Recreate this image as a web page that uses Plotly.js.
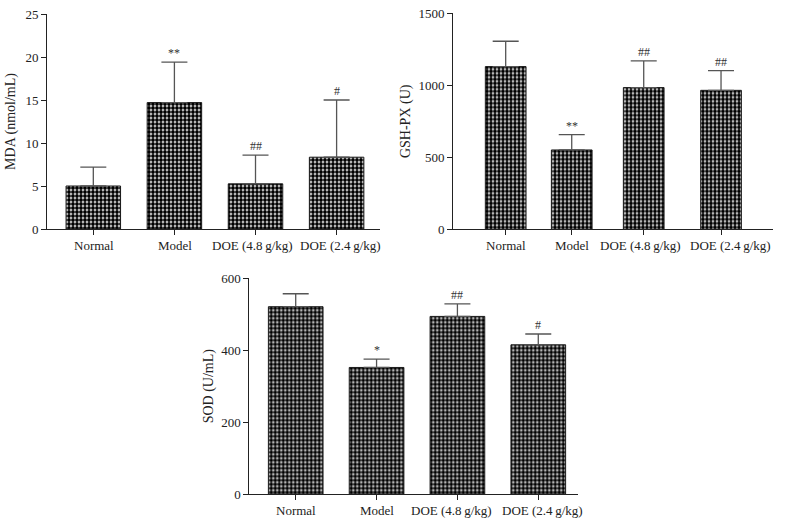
<!DOCTYPE html>
<html>
<head>
<meta charset="utf-8">
<script src="https://cdn.plot.ly/plotly-3.0.1.min.js"></script>
<style>
  html, body { margin: 0; padding: 0; background: #fff; }
  #chart { width: 787px; height: 526px; }
</style>
</head>
<body>
<div id="chart"></div>
<script>
// ---- data ----
const categories = ["Normal", "Model", "DOE (4.8\u2009g/kg)", "DOE (2.4\u2009g/kg)"];

const mdaMean = [5.0, 14.7, 5.25, 8.35];
const mdaErr  = [2.2, 4.7, 3.35, 6.65];
const mdaSig  = ["", "**", "##", "#"];

const gshMean = [1130, 551, 984, 965];
const gshErr  = [176, 106, 185, 137];
const gshSig  = ["", "**", "##", "##"];

const sodMean = [521, 352, 494, 415];
const sodErr  = [36, 23, 35, 30];
const sodSig  = ["", "*", "##", "#"];

const mdaTicks = [0, 5, 10, 15, 20, 25];
const gshTicks = [0, 500, 1000, 1500];
const sodTicks = [0, 200, 400, 600];

// ---- layout constants (positions of the category slots, label nudges in px) ----
const pos1 = [0, 1, 2, 3];
const pos2 = [0, 0.92, 1.923, 3];
const pos3 = [0, 1, 2, 3];
const nudge1 = [1, 1, -3.5, 4];
const nudge2 = [0, 0.5, -3.7, 9.5];
const nudge3 = [0, 0.5, -5.5, 4];

const FONT = "Liberation Serif, Times New Roman, serif";
const INK = "#222";

function barTrace(pos, mean, err, w, xa, ya) {
  return {
    type: "bar",
    x: pos,
    y: mean,
    width: w,
    xaxis: xa,
    yaxis: ya,
    marker: {
      color: "#ffffff",
      line: { color: "#1a1a1a", width: 1 },
      pattern: { shape: ".", fgcolor: "#000000", bgcolor: "#ffffff", size: 4, solidity: 0.72 }
    },
    error_y: {
      type: "data",
      symmetric: false,
      array: err,
      arrayminus: err.map(() => 0),
      color: "#555555",
      thickness: 1.3,
      width: 13
    },
    hoverinfo: "skip",
    showlegend: false
  };
}

function sigAnnots(pos, mean, err, sig, xa, ya) {
  return sig.map((s, i) => ({
    xref: xa, yref: ya,
    x: pos[i], y: mean[i] + err[i],
    text: s,
    showarrow: false,
    yanchor: "bottom",
    yshift: 0,
    font: { family: FONT, size: 12, color: "#333" }
  })).filter(a => a.text !== "");
}

function catLabels(pos, nudge, xa, ya) {
  return categories.map((c, i) => ({
    xref: xa, yref: ya,
    x: pos[i], y: 0,
    text: c,
    showarrow: false,
    xanchor: "center",
    yanchor: "top",
    xshift: nudge[i],
    yshift: -7,
    font: { family: FONT, size: 13, color: INK }
  }));
}

function xAxis(domain, range, pos, anchor) {
  return {
    domain: domain, range: range, anchor: anchor,
    tickmode: "array", tickvals: pos, showticklabels: false,
    showline: true, linecolor: INK, linewidth: 1,
    ticks: "outside", ticklen: 5, tickcolor: INK, tickwidth: 1,
    showgrid: false, zeroline: false,
    fixedrange: true
  };
}

function yAxis(domain, range, ticks, title, anchor, standoff) {
  return {
    domain: domain, range: range, anchor: anchor,
    tickmode: "array", tickvals: ticks,
    showline: true, linecolor: INK, linewidth: 1,
    ticks: "outside", ticklen: 5, tickcolor: INK, tickwidth: 1,
    showgrid: false, zeroline: false,
    tickfont: { family: FONT, size: 13, color: INK },
    title: { text: title, font: { family: FONT, size: 14, color: INK }, standoff: standoff },
    fixedrange: true
  };
}

const traces = [
  barTrace(pos1, mdaMean, mdaErr, 0.672, "x", "y"),
  barTrace(pos2, gshMean, gshErr, 0.567, "x2", "y2"),
  barTrace(pos3, sodMean, sodErr, 0.676, "x3", "y3")
];

const layout = {
  width: 787, height: 526,
  margin: { l: 0, r: 0, t: 0, b: 0 },
  paper_bgcolor: "#ffffff",
  plot_bgcolor: "rgba(0,0,0,0)",
  font: { family: FONT, color: INK },
  bargap: 0,
  xaxis:  xAxis([47 / 787, 380 / 787], [-0.571, 3.535], pos1, "y"),
  yaxis:  yAxis([(526 - 229) / 526, (526 - 14) / 526], [0, 25], mdaTicks, "MDA (nmol/mL)", "x", 6),
  xaxis2: xAxis([453 / 787, 773 / 787], [-0.734, 3.724], pos2, "y2"),
  yaxis2: yAxis([(526 - 229.3) / 526, (526 - 13.3) / 526], [0, 1500], gshTicks, "GSH-PX (U)", "x2", 4),
  xaxis3: xAxis([249.3 / 787, 578.3 / 787], [-0.574, 3.495], pos3, "y3"),
  yaxis3: yAxis([(526 - 494) / 526, (526 - 278.3) / 526], [0, 600], sodTicks, "SOD (U/mL)", "x3", 4),
  annotations: [].concat(
    sigAnnots(pos1, mdaMean, mdaErr, mdaSig, "x", "y"),
    sigAnnots(pos2, gshMean, gshErr, gshSig, "x2", "y2"),
    sigAnnots(pos3, sodMean, sodErr, sodSig, "x3", "y3"),
    catLabels(pos1, nudge1, "x", "y"),
    catLabels(pos2, nudge2, "x2", "y2"),
    catLabels(pos3, nudge3, "x3", "y3")
  )
};

Plotly.newPlot("chart", traces, layout, { staticPlot: true, displayModeBar: false });
</script>
</body>
</html>
